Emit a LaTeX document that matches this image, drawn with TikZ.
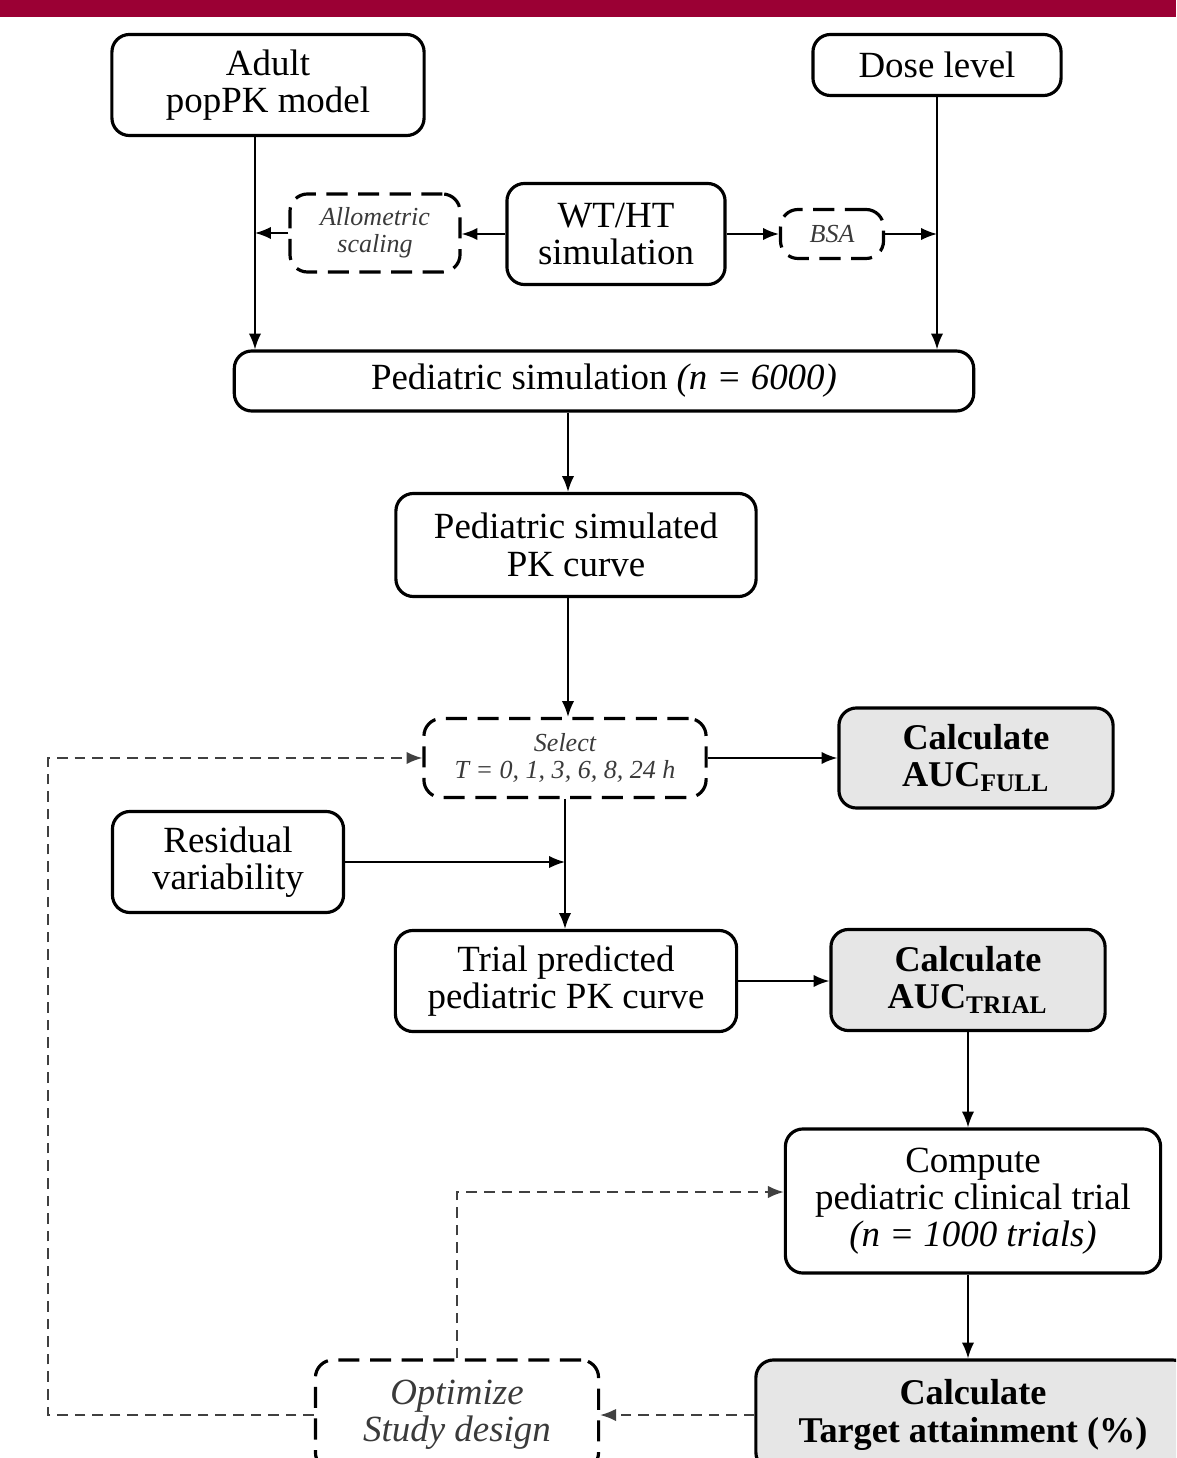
\documentclass[tikz,border=0pt]{standalone}
\usepackage{fontspec}
\setmainfont{Liberation Serif}
\usetikzlibrary{arrows.meta}

\definecolor{bandred}{HTML}{9B0034}
\definecolor{boxgrey}{HTML}{E6E6E6}
\definecolor{softtext}{HTML}{3A3A3A}

\tikzset{
  stage/.style={draw, rounded corners=5pt, line width=0.9pt, align=center, inner sep=0pt,
    font=\fontsize{10.5}{10.6}\selectfont},
  optbox/.style={stage, dash pattern=on 6pt off 3pt, text=softtext,
    font=\fontsize{7.4}{7.6}\selectfont\itshape},
  calcbox/.style={stage, fill=boxgrey, font=\fontsize{10.3}{10.6}\selectfont\bfseries},
  flow/.style={-{Latex[length=4.5pt,width=3.5pt]}, line width=0.5pt},
  loopback/.style={flow, draw=black!75, dash pattern=on 3pt off 2pt}
}

\begin{document}
\begin{tikzpicture}[x=0.01cm, y=-0.01cm]
  \useasboundingbox (0,0) rectangle (1176,1458);
  \clip (0,0) rectangle (1176,1458);
  \fill[bandred] (0,0) rectangle (1176,17);

  % top row
  \node[stage, minimum width=3.12cm, minimum height=1.01cm] (adult) at (268,85) {Adult\\popPK model};
  \node[stage, minimum width=2.48cm, minimum height=0.61cm] (dose) at (937,65) {Dose level};

  \node[optbox, minimum width=1.70cm, minimum height=0.78cm] (allom) at (375,233) {Allometric\\scaling};
  \node[stage, minimum width=2.18cm, minimum height=1.01cm] (wtht) at (616,234) {WT/HT\\simulation};
  \node[optbox, minimum width=1.03cm, minimum height=0.49cm] (bsa) at (832,234) {BSA};

  \node[stage, minimum width=7.39cm, minimum height=0.60cm] (pedsim) at (604,381) {Pediatric simulation \textit{(n = 6000)}};
  \node[stage, minimum width=3.60cm, minimum height=1.03cm] (pkcurve) at (576,545) {Pediatric simulated\\PK curve};

  % sampling
  \node[optbox, minimum width=2.82cm, minimum height=0.79cm] (select) at (565,758) {Select\\T = 0, 1, 3, 6, 8, 24 h};
  \node[calcbox, minimum width=2.74cm, minimum height=1.00cm] (aucfull) at (976,758) {Calculate\\AUC\textsubscript{FULL}};
  \node[stage, minimum width=2.31cm, minimum height=1.01cm] (resid) at (228,862) {Residual\\variability};
  \node[stage, minimum width=3.41cm, minimum height=1.01cm] (trial) at (566,981) {Trial predicted\\pediatric PK curve};
  \node[calcbox, minimum width=2.74cm, minimum height=1.01cm] (auctrial) at (968,980) {Calculate\\AUC\textsubscript{TRIAL}};

  % trials
  \node[stage, minimum width=3.75cm, minimum height=1.44cm] (compute) at (973,1201) {Compute\\pediatric clinical trial\\\textit{(n = 1000 trials)}};
  \node[calcbox, minimum width=4.34cm, minimum height=1.10cm] (target) at (973,1415) {Calculate\\Target attainment (\%)};
  \node[stage, dash pattern=on 6pt off 3pt, text=softtext, font=\fontsize{10.5}{10.6}\selectfont\itshape,
    minimum width=2.83cm, minimum height=1.10cm] (optimize) at (457,1415) {Optimize\\Study design};

  \coordinate (lefttrack) at (48,0);
  \coordinate (computein) at ([yshift=0.09cm]compute.west);

  \draw[flow] ([xshift=-0.13cm]adult.south) -- ([xshift=-0.13cm]adult.south |- pedsim.north);
  \draw[flow] (dose.south) -- (dose.south |- pedsim.north);
  \draw[flow] (wtht.west) -- (allom.east |- wtht.west);
  \draw[flow] (allom.west) -- ([xshift=-0.13cm]adult.south |- allom.west);
  \draw[flow] (wtht.east) -- (bsa.west);
  \draw[flow] (bsa.east) -- (bsa.east -| dose.south);
  \draw[flow] ([xshift=-0.08cm]pkcurve.north |- pedsim.south) -- ([xshift=-0.08cm]pkcurve.north);
  \draw[flow] ([xshift=-0.08cm]pkcurve.south) -- ([xshift=-0.08cm]pkcurve.south |- select.north);
  \draw[flow] (select.east) -- (aucfull.west);
  \draw[flow] (select.south) -- (select.south |- trial.north);
  \coordinate (join) at (select.south |- resid.east);
  \draw[flow] (resid.east) -- (join);
  \draw[flow] (trial.east) -- (auctrial.west |- trial.east);
  \draw[flow] (auctrial.south) -- (auctrial.south |- compute.north);
  \draw[flow] ([xshift=-0.05cm]compute.south) -- ([xshift=-0.05cm]target.north);

  \draw[loopback] (target.west) -- (optimize.east);
  \draw[loopback] (optimize.north) -- (optimize.north |- computein) -- (computein);
  \draw[loopback] (optimize.west) -- (optimize.west -| lefttrack) -- (select.west -| lefttrack) -- (select.west);
\end{tikzpicture}
\end{document}
